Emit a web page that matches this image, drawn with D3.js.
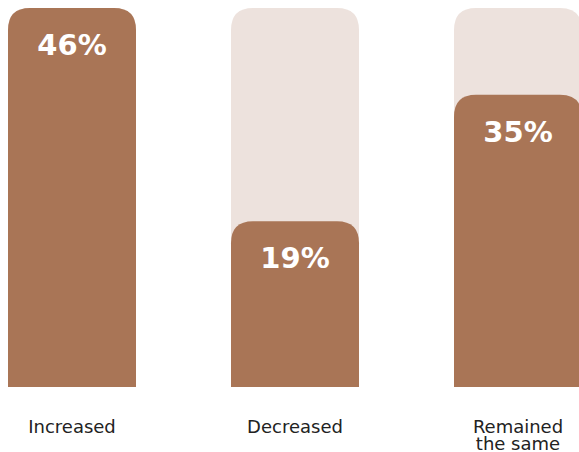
<!DOCTYPE html>
<html>
<head>
<meta charset="utf-8">
<script src="https://cdn.jsdelivr.net/npm/d3@7"></script>
<style>
  body { margin: 0; background: #fff; overflow: hidden; }
  svg { display: block; }
</style>
</head>
<body>
<svg id="chart"></svg>
<script>
const categories = ['Increased', 'Decreased', 'Remained the same'];
const labelLines = [['Increased'], ['Decreased'], ['Remained', 'the same']];
const values = [46, 19, 35];
const valueLabels = ['46%', '19%', '35%'];

let width = 579;
let height = 452;
let barTop = 8;
let barBottom = 387;
let radius = 22;

let svg = d3.select('#chart')
            .attr('width', width)
            .attr('height', height);

let x = d3.scaleBand()
          .domain(categories)
          .range([8, 582])
          .paddingInner(95 / 223)
          .paddingOuter(0);

let y = d3.scaleLinear()
          .domain([-2, d3.max(values)])
          .range([barBottom, barTop]);

// bar with only the top corners rounded
let topRounded = (x0, y0, w, h, r) => {
    r = Math.min(r, h, w / 2);
    return `M${x0},${y0 + h}V${y0 + r}Q${x0},${y0} ${x0 + r},${y0}` +
           `H${x0 + w - r}Q${x0 + w},${y0} ${x0 + w},${y0 + r}V${y0 + h}Z`;
};

let groups = svg.selectAll('g.bar')
    .data(categories)
    .enter().append('g')
    .attr('class', 'bar');

// light track behind every bar
groups.append('path')
    .attr('fill', '#ede2dd')
    .attr('d', c => topRounded(x(c), y(d3.max(values)), x.bandwidth(), barBottom - y(d3.max(values)), radius));

groups.append('path')
    .attr('fill', '#a97556')
    .attr('d', (c, i) => topRounded(x(c), y(values[i]), x.bandwidth(), barBottom - y(values[i]), radius));

groups.append('text')
    .attr('x', c => x(c) + x.bandwidth() / 2)
    .attr('y', (c, i) => y(values[i]) + 47)
    .attr('text-anchor', 'middle')
    .attr('fill', '#fff')
    .attr('font-family', 'DejaVu Sans, sans-serif')
    .attr('font-weight', 'bold')
    .attr('font-size', 29)
    .text((c, i) => valueLabels[i]);

let catText = groups.append('text')
    .attr('text-anchor', 'middle')
    .attr('fill', '#222')
    .attr('font-family', 'DejaVu Sans, sans-serif')
    .attr('font-size', 18);

catText.selectAll('tspan')
    .data((c, i) => labelLines[i].map(t => ({ t, c })))
    .enter().append('tspan')
    .attr('x', d => x(d.c) + x.bandwidth() / 2)
    .attr('y', (d, j) => 433 + j * 17)
    .text(d => d.t);
</script>
</body>
</html>
